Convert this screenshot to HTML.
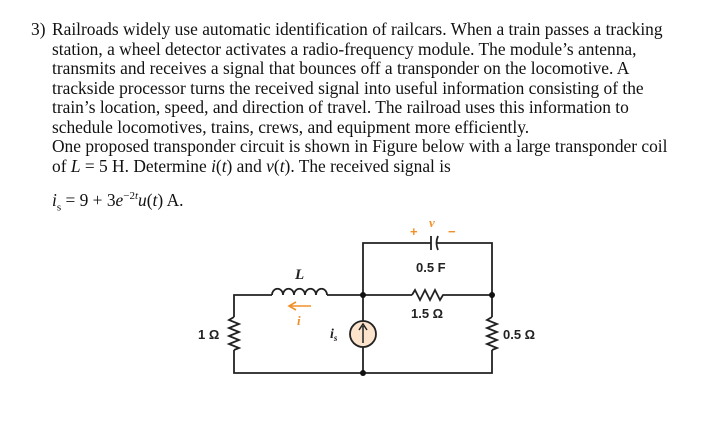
<!DOCTYPE html>
<html><head><style>
body{margin:0;width:717px;height:444px;background:#fff;position:relative;overflow:hidden;font-family:"Liberation Serif",serif;}
.t{position:absolute;left:52px;font-size:17.4px;white-space:nowrap;color:#111;line-height:20px}
</style></head><body>
<div class="t" style="left:31px;top:19px">3)</div>
<div class="t" style="top:19px">Railroads widely use automatic identification of railcars. When a train passes a tracking</div>
<div class="t" style="top:39px">station, a wheel detector activates a radio-frequency module. The module’s antenna,</div>
<div class="t" style="top:58px">transmits and receives a signal that bounces off a transponder on the locomotive. A</div>
<div class="t" style="top:78px">trackside processor turns the received signal into useful information consisting of the</div>
<div class="t" style="top:97px">train’s location, speed, and direction of travel. The railroad uses this information to</div>
<div class="t" style="top:117px">schedule locomotives, trains, crews, and equipment more efficiently.</div>
<div class="t" style="top:136px">One proposed transponder circuit is shown in Figure below with a large transponder coil</div>
<div class="t" style="top:156px">of <i>L</i> = 5 H. Determine <i>i</i>(<i>t</i>) and <i>v</i>(<i>t</i>). The received signal is</div>
<div class="t" style="top:186px"><i>i</i><sub style="font-size:11px">s</sub> = 9 + 3<i>e</i><sup style="font-size:11px">−2<i>t</i></sup><i>u</i>(<i>t</i>) A.</div>
<svg width="717" height="444" style="position:absolute;left:0;top:0" font-family="Liberation Sans,sans-serif">
<g stroke="#222" stroke-width="1.8" fill="none">
<path d="M272 295H234V317M234 350V373H492V350M492 317V295H447M412 295H363V243H431M436 243H492V295"/>
<path d="M327 295H363V321M363 347V373"/>
<path d="M272 295a3.5 4 0 0 1 11 0a3.5 4 0 0 1 11 0a3.5 4 0 0 1 11 0a3.5 4 0 0 1 11 0a3.5 4 0 0 1 11 0"/>
<path d="M234 317l-5 3 10 4-10 4 10 4-10 4 10 4-10 4 10 4-5 2"/>
<path d="M492 317l-5 3 10 4-10 4 10 4-10 4 10 4-10 4 10 4-5 2"/>
<path d="M412 295l3-5 5 10 5-10 5 10 5-10 5 10 3-5 4 0"/>
<path d="M431 236V250M438 236q-3 7 0 14"/>
</g>
<circle cx="363" cy="334" r="13" fill="#fbe3cc" stroke="#222" stroke-width="1.8"/>
<path d="M363 343V326M359 330L363 324 367 330" stroke="#222" stroke-width="1.5" fill="none"/>
<g fill="#111"><circle cx="363" cy="295" r="3"/><circle cx="492" cy="295" r="3"/><circle cx="363" cy="373" r="3"/></g>
<path d="M311 306H290M296 302L289 306 296 310" stroke="#f0902a" stroke-width="1.6" fill="none"/>
<g fill="#f0902a" font-weight="bold" font-size="13">
<text x="297" y="325" font-style="italic" font-family="Liberation Serif,serif">i</text>
<text x="429" y="227" font-style="italic" font-family="Liberation Serif,serif">v</text>
<text x="410" y="236">+</text><text x="448" y="236">−</text></g>
<g fill="#222" font-weight="bold" font-size="13">
<text x="295" y="279" font-style="italic" font-family="Liberation Serif,serif" font-size="15">L</text>
<text x="416" y="272">0.5 F</text>
<text x="411" y="318">1.5 Ω</text>
<text x="198" y="339">1 Ω</text>
<text x="503" y="339">0.5 Ω</text>
<text x="330" y="338" font-style="italic" font-family="Liberation Serif,serif" font-size="14">i<tspan font-size="9" dy="3">s</tspan></text>
</g>
</svg>
</body></html>
